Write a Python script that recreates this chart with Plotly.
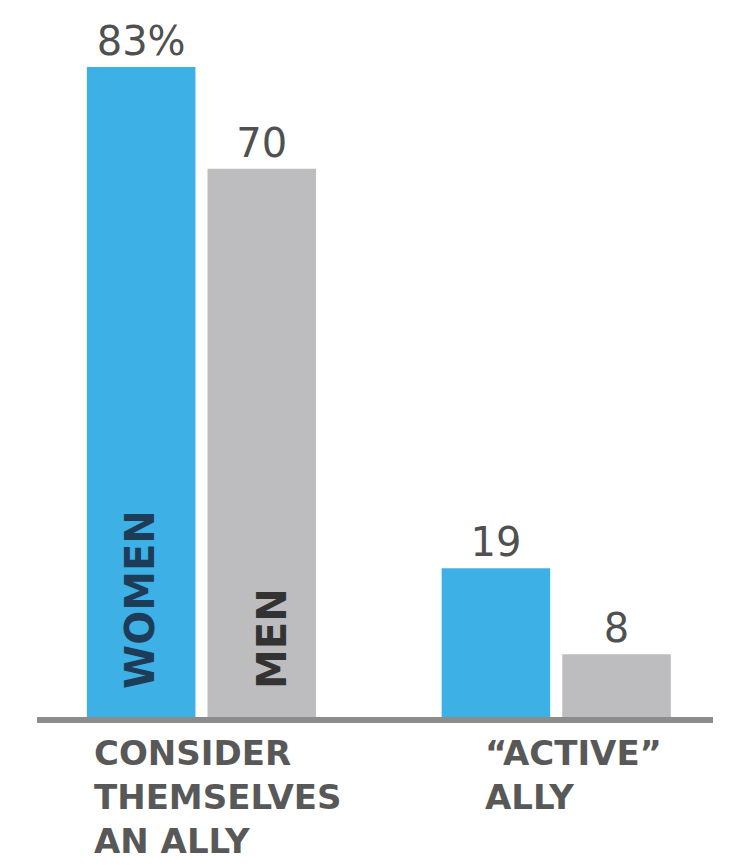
import plotly.graph_objects as go

categories = ["CONSIDER<br>THEMSELVES<br>AN ALLY", "\u201cACTIVE\u201d<br>ALLY"]
women = [83, 19]
men = [70, 8]
women_labels = ["83%", "19"]
men_labels = ["70", "8"]

BLUE = "#3DB0E6"
GRAY = "#BDBDC0"
TXT = "#505050"
FONT = "DejaVu Sans"

fig = go.Figure()
fig.add_bar(x=[0, 1], y=women, marker=dict(color=BLUE, line=dict(width=0)),
            text=women_labels, textposition="outside", cliponaxis=False,
            textfont=dict(family=FONT, size=40, color=TXT), name="WOMEN")
fig.add_bar(x=[0, 1], y=men, marker=dict(color=GRAY, line=dict(width=0)),
            text=men_labels, textposition="outside", cliponaxis=False,
            textfont=dict(family=FONT, size=40, color=TXT), name="MEN")

# category labels, left aligned below the bars
label_shift = [-109, -73]
for i, c in enumerate(categories):
    fig.add_annotation(x=i, y=0, xref="x", yref="y", text="<b>" + c.replace("<br>", "</b><br><b>") + "</b>",
                       showarrow=False,
                       xanchor="left", yanchor="top", align="left",
                       xshift=label_shift[i], yshift=-14,
                       font=dict(family=FONT, size=34, color="#585858"))

# rotated series names inside the first group
fig.add_annotation(x=0, y=0, xref="x", yref="y", text="<b>WOMEN</b>", showarrow=False,
                   textangle=-90, xanchor="center", yanchor="bottom", xshift=-62, yshift=26,
                   font=dict(family=FONT, size=40, color="#1d3c58"))
fig.add_annotation(x=0, y=0, xref="x", yref="y", text="<b>MEN</b>", showarrow=False,
                   textangle=-90, xanchor="center", yanchor="bottom", xshift=70, yshift=26,
                   font=dict(family=FONT, size=40, color="#333333"))

fig.update_layout(
    width=729, height=865,
    margin=dict(l=37, r=16, t=0, b=148),
    paper_bgcolor="white", plot_bgcolor="white",
    barmode="group", bargap=0.32, bargroupgap=0.1,
    showlegend=False,
    xaxis=dict(range=[-0.4636, 1.4419], showticklabels=False, showgrid=False,
               zeroline=False, showline=True, linewidth=6, linecolor="#8c8c8c",
               ticks=""),
    yaxis=dict(range=[0, 91.55], visible=False),
)

fig.write_html("out.html")
